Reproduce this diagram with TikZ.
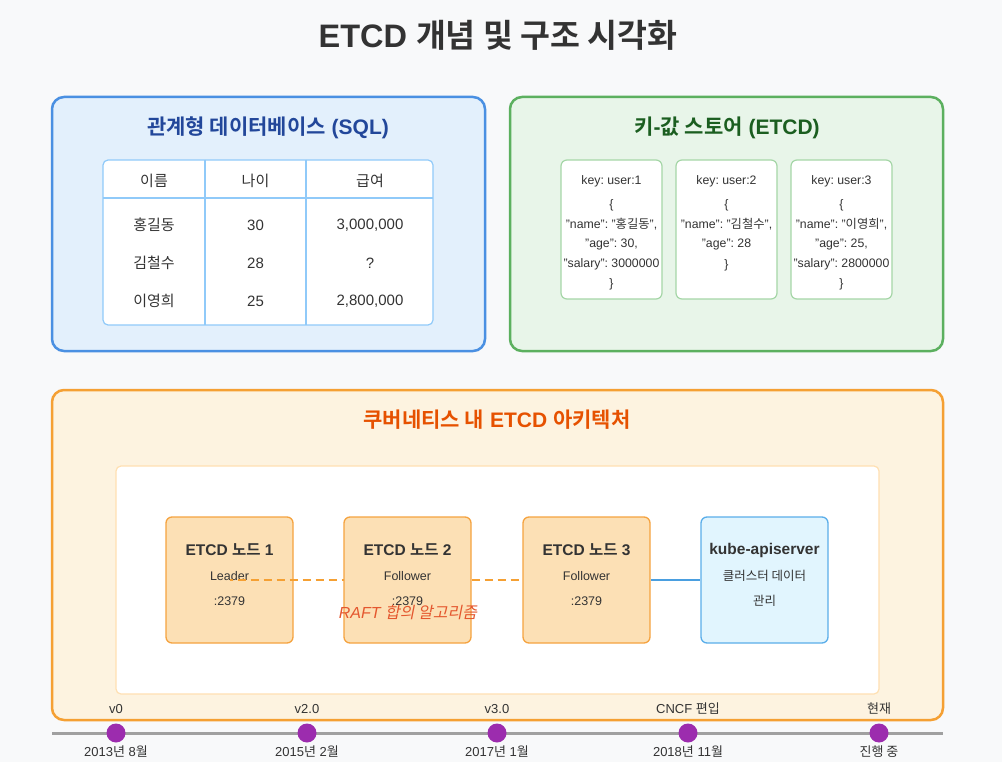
\documentclass[tikz,border=0pt]{standalone}
\usepackage{fontspec}
\setmainfont{Liberation Sans}
\newfontfamily\kr{Noto Sans CJK KR}[BoldFont={Noto Sans CJK KR Bold}]
\newfontfamily\krsl{Noto Sans CJK KR}[FakeSlant=0.2]
\newcommand\hk[1]{{\kr #1}}
\frenchspacing
\usetikzlibrary{calc}
\definecolor{bg}{HTML}{F8F9FA}
\definecolor{dark}{HTML}{333333}
\definecolor{bstroke}{HTML}{4A90E2}
\definecolor{bfill}{HTML}{E3F0FC}
\definecolor{btitle}{HTML}{22479A}
\definecolor{tborder}{HTML}{90CAF9}
\definecolor{gstroke}{HTML}{5CB05F}
\definecolor{gfill}{HTML}{E8F5E9}
\definecolor{gtitle}{HTML}{1B5E20}
\definecolor{cborder}{HTML}{A5D6A7}
\definecolor{ostroke}{HTML}{F5A033}
\definecolor{ofill}{HTML}{FDF3E0}
\definecolor{otitle}{HTML}{E65100}
\definecolor{inborder}{HTML}{FFE0B2}
\definecolor{nfill}{HTML}{FCE0B5}
\definecolor{nstroke}{HTML}{F5A340}
\definecolor{kfill}{HTML}{E1F5FE}
\definecolor{kstroke}{HTML}{5AAEEA}
\definecolor{kline}{HTML}{4A9FE0}
\definecolor{purp}{HTML}{9C2CAE}
\definecolor{tgray}{HTML}{A0A0A0}
\definecolor{raft}{HTML}{E4572E}
\tikzset{
  panel/.style={draw, line width=2.5pt, rounded corners=12pt},
  ptitle/.style={font=\fontsize{21}{24}\selectfont\bfseries},
  cell/.style={font=\fontsize{15}{18}\selectfont, text=dark},
  card/.style={draw=cborder, fill=white, line width=1.2pt, rounded corners=6pt, minimum width=101pt, minimum height=139pt, inner sep=0pt},
  ctext/.style={font=\fontsize{12.3}{14}\selectfont, text=dark, inner sep=0pt},
  enode/.style={draw=nstroke, fill=nfill, line width=1.3pt, rounded corners=6pt, minimum width=127pt, minimum height=126pt, inner sep=0pt},
  knode/.style={draw=kstroke, fill=kfill, line width=1.3pt, rounded corners=6pt, minimum width=127pt, minimum height=126pt, inner sep=0pt},
  nhead/.style={font=\fontsize{15.5}{18}\selectfont\bfseries, text=dark, inner sep=0pt},
  nsub/.style={font=\fontsize{12.5}{15}\selectfont, text=dark, inner sep=0pt},
  tdot/.style={circle, fill=purp, minimum size=19pt, inner sep=0pt},
  tlab/.style={font=\fontsize{13}{15}\selectfont, text=dark, inner sep=0pt},
}
\begin{document}
\begin{tikzpicture}[x=1pt,y=-1pt]
\useasboundingbox (0,0) rectangle (1002,762);
\fill[bg] (0,0) rectangle (1002,762);

% title
\node[font=\fontsize{32.5}{36}\selectfont\bfseries, text=dark] (title) at (498,35) {ETCD \hk{개념 및 구조 시각화}};

% left panel
\draw[panel, draw=bstroke, fill=bfill] (52,97) rectangle (485,351);
\node[ptitle, text=btitle] (ltitle) at (268,128) {\hk{관계형 데이터베이스} (SQL)};
\draw[draw=tborder, fill=white, line width=1.2pt, rounded corners=5pt] (103,160) rectangle (433,325);
\draw[tborder, line width=1.2pt] (103,198) -- (433,198) (205,160) -- (205,325) (306,160) -- (306,325);
\node[cell] (h1) at (154,181) {\hk{이름}};
\node[cell] (h2) at (255.5,181) {\hk{나이}};
\node[cell] (h3) at (370,181) {\hk{급여}};
\node[cell] (r1a) at (154,225) {\hk{홍길동}};
\node[cell] (r1b) at (255.5,225) {30};
\node[cell] (r1c) at (370,225) {3,000,000};
\node[cell] (r2a) at (154,263) {\hk{김철수}};
\node[cell] (r2b) at (255.5,263) {28};
\node[cell] (r2c) at (370,263) {?};
\node[cell] (r3a) at (154,301) {\hk{이영희}};
\node[cell] (r3b) at (255.5,301) {25};
\node[cell] (r3c) at (370,301) {2,800,000};

% right panel
\draw[panel, draw=gstroke, fill=gfill] (510,97) rectangle (943,351);
\node[ptitle, text=gtitle] (rtitle) at (727,128) {\hk{키}-\hk{값 스토어} (ETCD)};
\node[card] (c1) at (611.5,229.5) {};
\node[card] (c2) at (726.5,229.5) {};
\node[card] (c3) at (841.5,229.5) {};
\node[ctext] (c1k) at (611.5,181) {key: user:1};
\node[ctext] (c1o) at (611.5,205) {\{};
\node[ctext] (c1n) at (611.5,224) {"name": "\hk{홍길동}",};
\node[ctext] (c1a) at (611.5,244) {"age": 30,};
\node[ctext] (c1s) at (611.5,264) {"salary": 3000000};
\node[ctext] (c1c) at (611.5,284) {\}};
\node[ctext] (c2k) at (726.5,181) {key: user:2};
\node[ctext] (c2o) at (726.5,205) {\{};
\node[ctext] (c2n) at (726.5,224) {"name": "\hk{김철수}",};
\node[ctext] (c2a) at (726.5,244) {"age": 28};
\node[ctext] (c2c) at (726.5,265) {\}};
\node[ctext] (c3k) at (841.5,181) {key: user:3};
\node[ctext] (c3o) at (841.5,205) {\{};
\node[ctext] (c3n) at (841.5,224) {"name": "\hk{이영희}",};
\node[ctext] (c3a) at (841.5,244) {"age": 25,};
\node[ctext] (c3s) at (841.5,264) {"salary": 2800000};
\node[ctext] (c3c) at (841.5,284) {\}};

% bottom panel
\draw[panel, draw=ostroke, fill=ofill] (52,390) rectangle (943,720);
\node[ptitle, text=otitle] (btitle) at (497,420) {\hk{쿠버네티스 내} ETCD \hk{아키텍처}};
\draw[draw=inborder, fill=white, line width=1.2pt, rounded corners=5pt] (116,466) rectangle (879,694);

\coordinate (n3c) at (586.5,580);
\node[enode] (n1) at (229.5,580) {};
\node[nhead] at ($(n1.center)+(0,-30)$) {ETCD \hk{노드} 1};
\node[nsub] at ($(n1.center)+(0,-4)$) {Leader};
\node[nsub] at ($(n1.center)+(0,21)$) {:2379};

\draw[ostroke, line width=2pt, dash pattern=on 8pt off 5pt, dash phase=-8pt] (n1.center) -- (n3c);

\node[enode] (n2) at (407.5,580) {};
\node[nhead] at ($(n2.center)+(0,-30)$) {ETCD \hk{노드} 2};
\node[nsub] at ($(n2.center)+(0,-4)$) {Follower};
\node[nsub] at ($(n2.center)+(0,21)$) {:2379};

\node[enode] (n3) at (n3c) {};
\node[nhead] at ($(n3.center)+(0,-30)$) {ETCD \hk{노드} 3};
\node[nsub] at ($(n3.center)+(0,-4)$) {Follower};
\node[nsub] at ($(n3.center)+(0,21)$) {:2379};

\node[knode] (k) at (764.5,580) {};
\node[nhead] at ($(k.center)+(0,-30)$) {kube-apiserver};
\node[nsub] at ($(k.center)+(0,-4)$) {\hk{클러스터 데이터}};
\node[nsub] at ($(k.center)+(0,21)$) {\hk{관리}};

\draw[kline, line width=2.5pt] (n3.east) -- (k.west);

\node[font=\fontsize{16}{19}\selectfont\itshape, text=raft, inner sep=0pt] (raftl) at (408,612) {RAFT {\krsl 합의 알고리즘}};

% timeline
\coordinate (tl0) at (52,733);
\coordinate (tl1) at (943,733);
\draw[tgray, line width=3pt] (tl0) -- (tl1);
\foreach \x/\top/\bot [count=\i] in {116/v0/{2013\hk{년} 8\hk{월}}, 307/v2.0/{2015\hk{년} 2\hk{월}}, 497/v3.0/{2017\hk{년} 1\hk{월}}, 688/{CNCF \hk{편입}}/{2018\hk{년} 11\hk{월}}, 879/{\hk{현재}}/{\hk{진행 중}}}{
  \node[tdot] (d\i) at (\x,733) {};
  \node[tlab] (t\i) at (\x,709) {\top};
  \node[tlab] (b\i) at (\x,752) {\bot};
}
\end{tikzpicture}
\end{document}
